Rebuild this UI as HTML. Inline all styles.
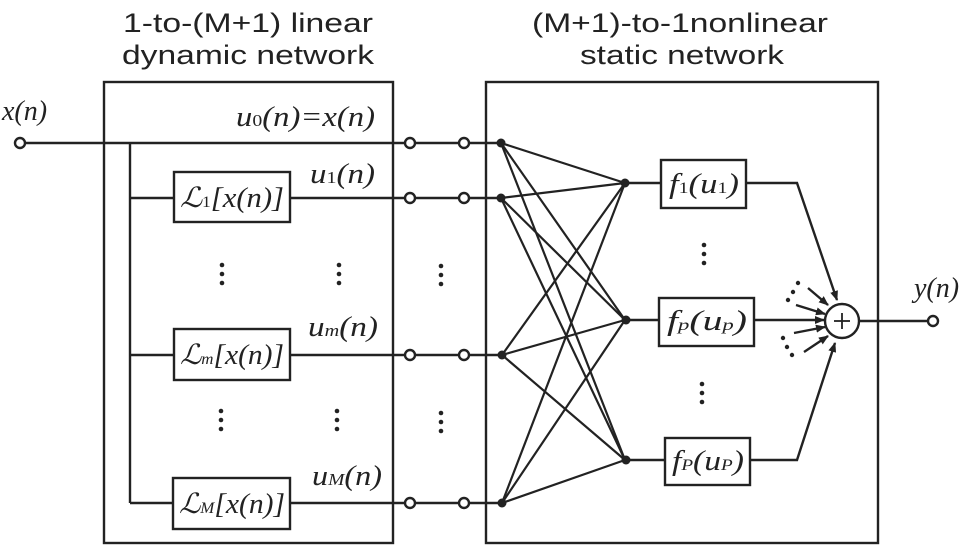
<!DOCTYPE html>
<html><head><meta charset="utf-8"><style>
html,body{margin:0;padding:0;background:#fff;}
svg{display:block;}
text{font-family:"Liberation Serif",serif;fill:#222;}
.t{font-family:"Liberation Sans",sans-serif;font-size:27px;}
.m{font-style:italic;font-size:28px;}
</style></head><body>
<svg width="973" height="547" viewBox="0 0 973 547" xmlns="http://www.w3.org/2000/svg">
<defs><marker id="a" markerWidth="10" markerHeight="10" refX="9" refY="5" orient="auto" markerUnits="userSpaceOnUse"><path d="M0,1 L10,5 L0,9 z" fill="#222"/></marker>
<g id="d" fill="#222"><circle cx="0" cy="0" r="2.3"/><circle cx="0" cy="9" r="2.3"/><circle cx="0" cy="18" r="2.3"/></g></defs>
<g stroke="#222" stroke-width="2.4" fill="none">
<rect x="104" y="82" width="289" height="461"/>
<rect x="486" y="82" width="392" height="461"/>
<line x1="26" y1="143" x2="405" y2="143"/>
<line x1="130" y1="143" x2="130" y2="503"/>
<line x1="130" y1="198" x2="174" y2="198"/>
<line x1="130" y1="355" x2="174" y2="355"/>
<line x1="130" y1="503" x2="174" y2="503"/>
<rect x="174" y="172" width="116" height="50"/>
<rect x="174" y="329" width="116" height="51"/>
<rect x="173" y="478" width="117" height="51"/>
<line x1="290" y1="198" x2="405" y2="198"/>
<line x1="290" y1="355" x2="405" y2="355"/>
<line x1="290" y1="503" x2="405" y2="503"/>
<line x1="415" y1="143" x2="459" y2="143"/><line x1="415" y1="198" x2="459" y2="198"/>
<line x1="415" y1="355" x2="459" y2="355"/><line x1="415" y1="503" x2="459" y2="503"/>
<line x1="469" y1="143" x2="501" y2="143"/><line x1="469" y1="198" x2="501" y2="198"/>
<line x1="469" y1="355" x2="501" y2="355"/><line x1="469" y1="503" x2="501" y2="503"/>
<circle cx="20" cy="143" r="5"/>
<circle cx="410" cy="143" r="5"/><circle cx="464" cy="143" r="5"/>
<circle cx="410" cy="198" r="5"/><circle cx="464" cy="198" r="5"/>
<circle cx="410" cy="355" r="5"/><circle cx="464" cy="355" r="5"/>
<circle cx="410" cy="503" r="5"/><circle cx="464" cy="503" r="5"/>
<g stroke-width="2.2">
<line x1="501" y1="143" x2="625" y2="183"/><line x1="501" y1="143" x2="625" y2="320"/><line x1="501" y1="143" x2="625" y2="460"/>
<line x1="501" y1="198" x2="625" y2="183"/><line x1="501" y1="198" x2="625" y2="320"/><line x1="501" y1="198" x2="625" y2="460"/>
<line x1="502" y1="355" x2="625" y2="183"/><line x1="502" y1="355" x2="625" y2="320"/><line x1="502" y1="355" x2="625" y2="460"/>
<line x1="502" y1="503" x2="625" y2="183"/><line x1="502" y1="503" x2="625" y2="320"/><line x1="502" y1="503" x2="625" y2="460"/>
</g>
<line x1="625" y1="183" x2="661" y2="183"/>
<line x1="625" y1="320" x2="659" y2="320"/>
<line x1="625" y1="460" x2="665" y2="460"/>
<rect x="661" y="160" width="85" height="48"/>
<rect x="659" y="298" width="95" height="48"/>
<rect x="665" y="438" width="85" height="47"/>
<polyline points="746,183 797,183 837,300" marker-end="url(#a)"/>
<polyline points="750,460 797,460 835,343" marker-end="url(#a)"/>
<line x1="754" y1="320" x2="824" y2="320" marker-end="url(#a)"/>
<line x1="808" y1="288" x2="828" y2="305" marker-end="url(#a)"/>
<line x1="796" y1="305" x2="825" y2="314" marker-end="url(#a)"/>
<line x1="794" y1="333" x2="825" y2="327" marker-end="url(#a)"/>
<line x1="804" y1="352" x2="828" y2="336" marker-end="url(#a)"/>
<circle cx="842" cy="321" r="17" fill="#fff"/>
<line x1="834" y1="321" x2="850" y2="321" stroke-width="1.8"/>
<line x1="842" y1="313" x2="842" y2="329" stroke-width="1.8"/>
<line x1="859" y1="321" x2="928" y2="321"/>
<circle cx="933" cy="321" r="5"/>
</g>
<g fill="#222">
<circle cx="501" cy="143" r="4.5"/><circle cx="501" cy="198" r="4.5"/>
<circle cx="502" cy="355" r="4.5"/><circle cx="502" cy="503" r="4.5"/>
<circle cx="625" cy="183" r="4.5"/><circle cx="626" cy="320" r="4.5"/><circle cx="626" cy="460" r="4.5"/>
<circle cx="798" cy="283" r="2.2"/><circle cx="793" cy="292" r="2.2"/><circle cx="788" cy="300" r="2.2"/>
<circle cx="783" cy="338" r="2.2"/><circle cx="787" cy="347" r="2.2"/><circle cx="792" cy="355" r="2.2"/>
</g>
<use href="#d" x="222" y="265"/><use href="#d" x="339" y="265"/><use href="#d" x="441" y="266"/>
<use href="#d" x="221" y="411"/><use href="#d" x="337" y="411"/><use href="#d" x="441" y="413"/>
<use href="#d" x="704" y="245"/><use href="#d" x="702" y="384"/>
<text class="t" x="248" y="32" text-anchor="middle" textLength="250" lengthAdjust="spacingAndGlyphs">1-to-(M+1) linear</text>
<text class="t" x="248" y="64" text-anchor="middle" textLength="252" lengthAdjust="spacingAndGlyphs">dynamic network</text>
<text class="t" x="680" y="32" text-anchor="middle" textLength="296" lengthAdjust="spacingAndGlyphs">(M+1)-to-1nonlinear</text>
<text class="t" x="682" y="64" text-anchor="middle" textLength="204" lengthAdjust="spacingAndGlyphs">static network</text>
<text class="m" x="2" y="120">x(n)</text>
<text class="m" x="236" y="126" textLength="139" lengthAdjust="spacingAndGlyphs">u<tspan font-size="17" font-style="normal">0</tspan>(n)=x(n)</text>
<text class="m" x="310" y="183" textLength="65" lengthAdjust="spacingAndGlyphs">u<tspan font-size="17" font-style="normal">1</tspan>(n)</text>
<text class="m" x="308" y="336" textLength="70" lengthAdjust="spacingAndGlyphs">u<tspan font-size="17">m</tspan>(n)</text>
<text class="m" x="312" y="485" textLength="70" lengthAdjust="spacingAndGlyphs">u<tspan font-size="17">M</tspan>(n)</text>
<text class="m" x="914" y="297">y(n)</text>
<text class="m" x="180" y="207" textLength="104" lengthAdjust="spacingAndGlyphs">ℒ<tspan font-size="16" font-style="normal">1</tspan>[x(n)]</text>
<text class="m" x="180" y="364" textLength="104" lengthAdjust="spacingAndGlyphs">ℒ<tspan font-size="16">m</tspan>[x(n)]</text>
<text class="m" x="179" y="513" textLength="106" lengthAdjust="spacingAndGlyphs">ℒ<tspan font-size="16">M</tspan>[x(n)]</text>
<text class="m" x="669" y="193" textLength="70" lengthAdjust="spacingAndGlyphs">f<tspan font-size="16" font-style="normal">1</tspan>(u<tspan font-size="16" font-style="normal">1</tspan>)</text>
<text class="m" x="667" y="330" textLength="80" lengthAdjust="spacingAndGlyphs">f<tspan font-size="16">p</tspan>(u<tspan font-size="16">p</tspan>)</text>
<text class="m" x="672" y="470" textLength="72" lengthAdjust="spacingAndGlyphs">f<tspan font-size="16">P</tspan>(u<tspan font-size="16">P</tspan>)</text>
</svg>
</body></html>
